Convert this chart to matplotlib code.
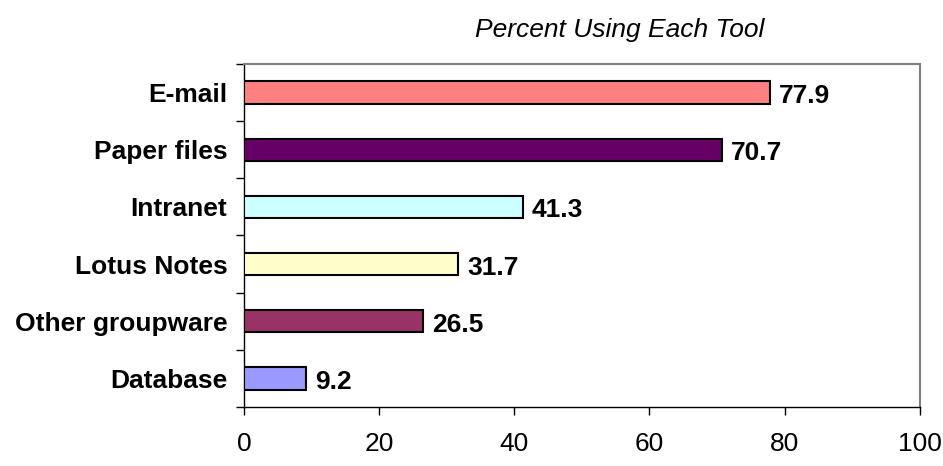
import numpy as np
import matplotlib
matplotlib.use("Agg")
import matplotlib.pyplot as plt
from matplotlib.ticker import FixedLocator

plt.rcParams["font.family"] = ["Liberation Sans", "DejaVu Sans"]

# bottom-to-top order
tools = ["Database", "Other groupware", "Lotus Notes", "Intranet", "Paper files", "E-mail"]
percent = [9.2, 26.5, 31.7, 41.3, 70.7, 77.9]
colors = ["#9999FF", "#993366", "#FFFFCC", "#CCFFFF", "#660066", "#FF8080"]
xticks = [0, 20, 40, 60, 80, 100]

fig = plt.figure(figsize=(9.43, 4.66), dpi=100)
ax = fig.add_axes([0.2587, 0.1266, 0.7167, 0.7361])

y = np.arange(len(tools))
ax.barh(y, percent, height=0.39, color=colors, edgecolor="black", linewidth=1.5, zorder=3)
for yi, v in zip(y, percent):
    ax.text(v + 1.3, yi - 0.06, f"{v:g}", va="center", ha="left",
            fontsize=19, fontweight="bold")

ax.set_xlim(0, 100)
ax.set_ylim(-0.5, len(tools) - 0.5)

ax.set_xticks(xticks)
ax.set_xticklabels([str(t) for t in xticks], fontsize=19)
ax.tick_params(axis="x", direction="out", length=6, width=1, pad=12)

ax.set_yticks(y)
ax.set_yticklabels(tools, fontsize=19, fontweight="bold")
ax.tick_params(axis="y", which="major", length=0, pad=12)
ax.yaxis.set_minor_locator(FixedLocator(np.arange(-0.5, len(tools), 1.0)))
ax.tick_params(axis="y", which="minor", direction="out", length=6, width=1)

for side in ("top", "right"):
    ax.spines[side].set_color("#808080")
    ax.spines[side].set_linewidth(1.5)
for side in ("left", "bottom"):
    ax.spines[side].set_color("black")
    ax.spines[side].set_linewidth(1)

fig.text(0.657, 0.935, "Percent Using Each Tool", ha="center", va="center",
         fontsize=19, fontstyle="italic")

fig.savefig("out.png", dpi=100)
